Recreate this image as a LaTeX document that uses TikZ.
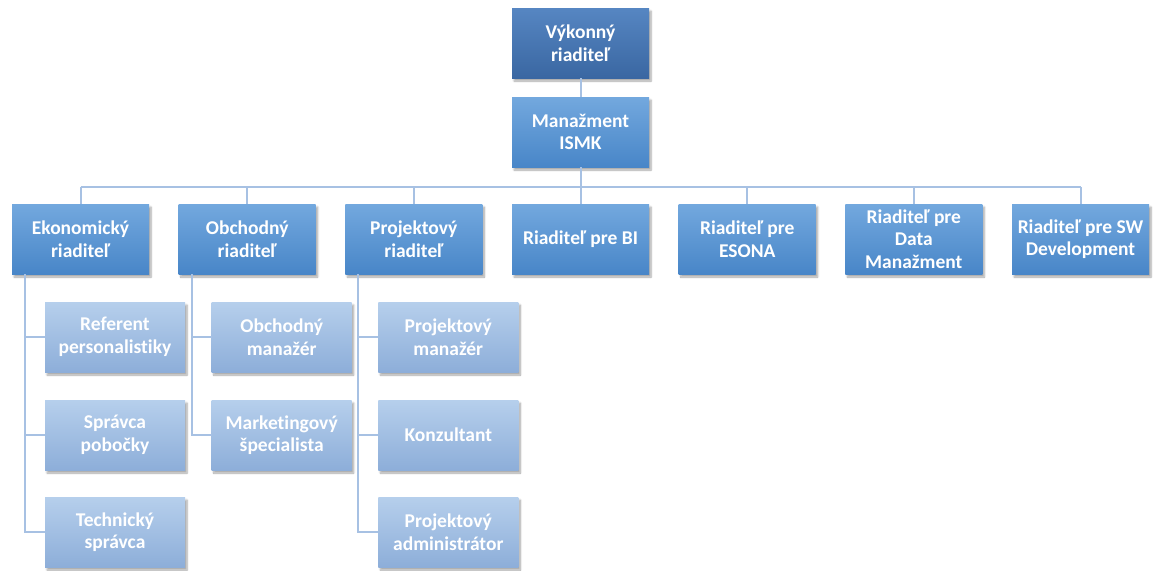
\documentclass[tikz,border=0pt]{standalone}
\usepackage{fontspec}
\setmainfont[Ligatures=NoCommon]{Carlito}
\usetikzlibrary{shadows.blur}
\definecolor{lineblue}{HTML}{A7C1E3}
\definecolor{topA}{HTML}{5686C2}
\definecolor{topB}{HTML}{3A67A2}
\definecolor{midA}{HTML}{73A8DE}
\definecolor{midB}{HTML}{4886C8}
\definecolor{lowA}{HTML}{B6CFEC}
\definecolor{lowB}{HTML}{8DAED9}
\begin{document}
\begin{tikzpicture}[x=1pt,y=-1pt,
  base/.style={draw=none, minimum height=70pt, align=center, text=white, inner sep=1pt,
    font=\fontsize{19.5}{22.5}\selectfont\bfseries,
    blur shadow={shadow xshift=2pt, shadow yshift=-3pt, shadow blur steps=6, shadow opacity=35}},
  bossbox/.style={base, minimum width=137pt, top color=topA, bottom color=topB},
  midbox/.style={base, minimum width=137pt, top color=midA, bottom color=midB},
  lowbox/.style={base, minimum width=140pt, top color=lowA, bottom color=lowB},
  conn/.style={draw=lineblue, line width=2pt}]
\useasboundingbox (0,0) rectangle (1155,570);
% level 0/1
\node[bossbox] (vyk) at (580.5,43) {Výkonný\\riaditeľ};
\node[midbox] (man) at (580.5,132) {Manažment\\ISMK};
% level 2
\node[midbox] (ek) at (80.5,239) {Ekonomický\\riaditeľ};
\node[midbox] (ob) at (247.2,239) {Obchodný\\riaditeľ};
\node[midbox] (pr) at (413.8,239) {Projektový\\riaditeľ};
\node[midbox] (bi) at (580.5,239) {Riaditeľ pre BI};
\node[midbox] (es) at (747.2,239) {Riaditeľ pre\\ESONA};
\node[midbox] (dm) at (913.8,239) {Riaditeľ pre\\Data\\Manažment};
\node[midbox] (sw) at (1080.5,239) {Riaditeľ pre SW\\Development};
% level 3
\node[lowbox] (ref) at (115,337) {Referent\\personalistiky};
\node[lowbox] (spr) at (115,435) {Správca\\pobočky};
\node[lowbox] (tec) at (115,532) {Technický\\správca};
\node[lowbox] (obm) at (281.7,337) {Obchodný\\manažér};
\node[lowbox] (mar) at (281.7,435) {Marketingový\\špecialista};
\node[lowbox] (prm) at (448.3,337) {Projektový\\manažér};
\node[lowbox] (kon) at (448.3,435) {Konzultant};
\node[lowbox] (pad) at (448.3,532) {Projektový\\administrátor};
% connectors
\coordinate (bus) at (580.5,187);
\draw[conn] (vyk) -- (man);
\draw[conn] (man.south) -- (bus);
\draw[conn] (ek.north |- bus) -- (sw.north |- bus);
\foreach \n in {ek,ob,pr,bi,es,dm,sw} {\draw[conn] (\n.north) -- (\n.north |- bus);}
\draw[conn] ([xshift=13pt]ek.south west) |- (tec.west);
\draw[conn] ([xshift=13pt]ek.south west) |- (ref.west);
\draw[conn] ([xshift=13pt]ek.south west) |- (spr.west);
\draw[conn] ([xshift=13pt]ob.south west) |- (mar.west);
\draw[conn] ([xshift=13pt]ob.south west) |- (obm.west);
\draw[conn] ([xshift=13pt]pr.south west) |- (pad.west);
\draw[conn] ([xshift=13pt]pr.south west) |- (prm.west);
\draw[conn] ([xshift=13pt]pr.south west) |- (kon.west);
\end{tikzpicture}
\end{document}
